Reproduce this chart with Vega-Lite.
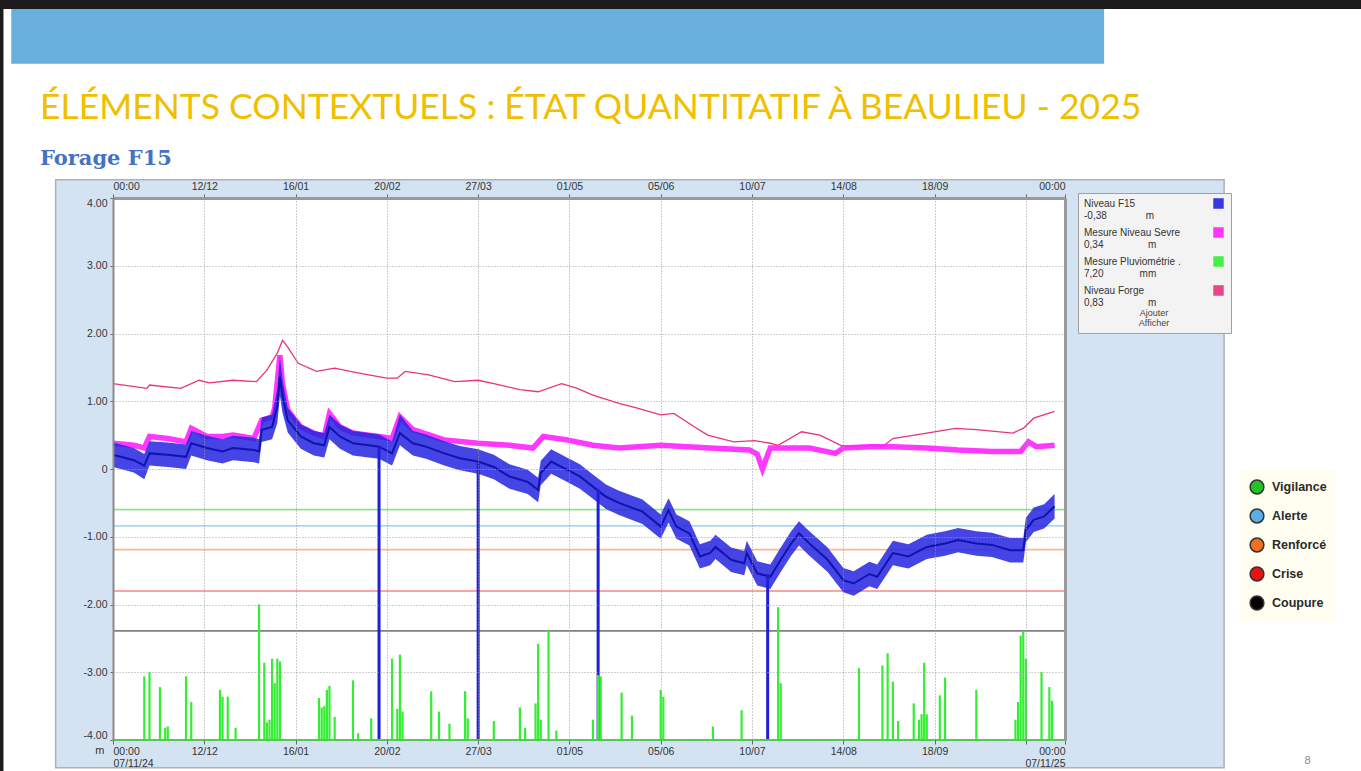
{
  "$schema": "https://vega.github.io/schema/vega-lite/v6.json",
  "width": 952,
  "height": 542,
  "autosize": {"type": "none"},
  "padding": {"left": 113, "top": 198, "right": 296, "bottom": 31},
  "background": "white",
  "title": {
    "text": "ÉLÉMENTS CONTEXTUELS : ÉTAT QUANTITATIF À BEAULIEU - 2025",
    "subtitle": "Forage F15",
    "anchor": "start",
    "frame": "group",
    "dx": -73,
    "dy": 181,
    "offset": 10,
    "font": "Lato",
    "fontSize": 35.5,
    "fontWeight": "normal",
    "color": "#f0c000",
    "subtitleFont": "DejaVu Serif",
    "subtitleFontSize": 21,
    "subtitleFontWeight": "bold",
    "subtitleColor": "#4472c4",
    "subtitlePadding": 22
  },
  "datasets": {
    "f15": [
      {"date": "2024-11-07", "niveau": 0.21, "bas": 0.03, "haut": 0.39},
      {"date": "2024-11-15", "niveau": 0.13, "bas": -0.05, "haut": 0.31},
      {"date": "2024-11-19", "niveau": 0.05, "bas": -0.15, "haut": 0.22},
      {"date": "2024-11-21", "niveau": 0.23, "bas": 0.05, "haut": 0.41},
      {"date": "2024-11-28", "niveau": 0.21, "bas": 0.03, "haut": 0.39},
      {"date": "2024-12-05", "niveau": 0.18, "bas": 0.0, "haut": 0.36},
      {"date": "2024-12-07", "niveau": 0.38, "bas": 0.2, "haut": 0.56},
      {"date": "2024-12-13", "niveau": 0.31, "bas": 0.13, "haut": 0.49},
      {"date": "2024-12-19", "niveau": 0.26, "bas": 0.08, "haut": 0.44},
      {"date": "2024-12-23", "niveau": 0.31, "bas": 0.13, "haut": 0.49},
      {"date": "2024-12-31", "niveau": 0.28, "bas": 0.1, "haut": 0.46},
      {"date": "2025-01-02", "niveau": 0.26, "bas": 0.08, "haut": 0.44},
      {"date": "2025-01-03", "niveau": 0.58, "bas": 0.4, "haut": 0.76},
      {"date": "2025-01-07", "niveau": 0.62, "bas": 0.44, "haut": 0.8},
      {"date": "2025-01-09", "niveau": 0.92, "bas": 0.68, "haut": 1.18},
      {"date": "2025-01-10", "niveau": 1.36, "bas": 1.08, "haut": 1.66},
      {"date": "2025-01-11", "niveau": 1.07, "bas": 0.83, "haut": 1.32},
      {"date": "2025-01-13", "niveau": 0.72, "bas": 0.54, "haut": 0.9},
      {"date": "2025-01-18", "niveau": 0.48, "bas": 0.3, "haut": 0.66},
      {"date": "2025-01-23", "niveau": 0.38, "bas": 0.2, "haut": 0.56},
      {"date": "2025-01-27", "niveau": 0.35, "bas": 0.17, "haut": 0.53},
      {"date": "2025-01-29", "niveau": 0.62, "bas": 0.44, "haut": 0.8},
      {"date": "2025-02-02", "niveau": 0.48, "bas": 0.3, "haut": 0.66},
      {"date": "2025-02-07", "niveau": 0.38, "bas": 0.2, "haut": 0.56},
      {"date": "2025-02-13", "niveau": 0.35, "bas": 0.17, "haut": 0.53},
      {"date": "2025-02-17", "niveau": 0.33, "bas": 0.15, "haut": 0.51},
      {"date": "2025-02-22", "niveau": 0.23, "bas": 0.05, "haut": 0.41},
      {"date": "2025-02-25", "niveau": 0.53, "bas": 0.35, "haut": 0.8},
      {"date": "2025-03-02", "niveau": 0.38, "bas": 0.2, "haut": 0.56},
      {"date": "2025-03-07", "niveau": 0.33, "bas": 0.15, "haut": 0.51},
      {"date": "2025-03-14", "niveau": 0.23, "bas": 0.05, "haut": 0.41},
      {"date": "2025-03-20", "niveau": 0.16, "bas": -0.02, "haut": 0.34},
      {"date": "2025-03-27", "niveau": 0.11, "bas": -0.07, "haut": 0.29},
      {"date": "2025-04-02", "niveau": 0.03, "bas": -0.15, "haut": 0.21},
      {"date": "2025-04-08", "niveau": -0.11, "bas": -0.29, "haut": 0.07},
      {"date": "2025-04-15", "niveau": -0.19, "bas": -0.37, "haut": -0.01},
      {"date": "2025-04-19", "niveau": -0.31, "bas": -0.49, "haut": -0.13},
      {"date": "2025-04-20", "niveau": -0.06, "bas": -0.24, "haut": 0.12},
      {"date": "2025-04-24", "niveau": 0.11, "bas": -0.07, "haut": 0.29},
      {"date": "2025-04-30", "niveau": -0.01, "bas": -0.19, "haut": 0.17},
      {"date": "2025-05-05", "niveau": -0.11, "bas": -0.29, "haut": 0.07},
      {"date": "2025-05-10", "niveau": -0.26, "bas": -0.44, "haut": -0.08},
      {"date": "2025-05-15", "niveau": -0.41, "bas": -0.59, "haut": -0.23},
      {"date": "2025-05-20", "niveau": -0.5, "bas": -0.68, "haut": -0.32},
      {"date": "2025-05-29", "niveau": -0.63, "bas": -0.81, "haut": -0.45},
      {"date": "2025-06-05", "niveau": -0.85, "bas": -1.03, "haut": -0.67},
      {"date": "2025-06-08", "niveau": -0.61, "bas": -0.79, "haut": -0.43},
      {"date": "2025-06-11", "niveau": -0.85, "bas": -1.03, "haut": -0.67},
      {"date": "2025-06-16", "niveau": -0.95, "bas": -1.13, "haut": -0.77},
      {"date": "2025-06-20", "niveau": -1.29, "bas": -1.47, "haut": -1.11},
      {"date": "2025-06-24", "niveau": -1.24, "bas": -1.42, "haut": -1.06},
      {"date": "2025-06-26", "niveau": -1.15, "bas": -1.33, "haut": -0.97},
      {"date": "2025-07-02", "niveau": -1.34, "bas": -1.52, "haut": -1.16},
      {"date": "2025-07-07", "niveau": -1.39, "bas": -1.57, "haut": -1.21},
      {"date": "2025-07-08", "niveau": -1.24, "bas": -1.42, "haut": -1.06},
      {"date": "2025-07-12", "niveau": -1.54, "bas": -1.72, "haut": -1.36},
      {"date": "2025-07-17", "niveau": -1.59, "bas": -1.77, "haut": -1.41},
      {"date": "2025-07-21", "niveau": -1.34, "bas": -1.52, "haut": -1.16},
      {"date": "2025-07-25", "niveau": -1.1, "bas": -1.28, "haut": -0.92},
      {"date": "2025-07-28", "niveau": -0.95, "bas": -1.13, "haut": -0.77},
      {"date": "2025-08-01", "niveau": -1.1, "bas": -1.28, "haut": -0.92},
      {"date": "2025-08-08", "niveau": -1.34, "bas": -1.52, "haut": -1.16},
      {"date": "2025-08-14", "niveau": -1.64, "bas": -1.82, "haut": -1.46},
      {"date": "2025-08-18", "niveau": -1.69, "bas": -1.87, "haut": -1.51},
      {"date": "2025-08-24", "niveau": -1.55, "bas": -1.73, "haut": -1.37},
      {"date": "2025-08-27", "niveau": -1.59, "bas": -1.77, "haut": -1.41},
      {"date": "2025-09-02", "niveau": -1.24, "bas": -1.42, "haut": -1.06},
      {"date": "2025-09-08", "niveau": -1.29, "bas": -1.47, "haut": -1.11},
      {"date": "2025-09-15", "niveau": -1.15, "bas": -1.33, "haut": -0.97},
      {"date": "2025-09-22", "niveau": -1.1, "bas": -1.28, "haut": -0.92},
      {"date": "2025-09-27", "niveau": -1.05, "bas": -1.23, "haut": -0.87},
      {"date": "2025-10-04", "niveau": -1.1, "bas": -1.28, "haut": -0.92},
      {"date": "2025-10-10", "niveau": -1.12, "bas": -1.3, "haut": -0.94},
      {"date": "2025-10-17", "niveau": -1.2, "bas": -1.38, "haut": -1.02},
      {"date": "2025-10-22", "niveau": -1.2, "bas": -1.38, "haut": -1.02},
      {"date": "2025-10-23", "niveau": -0.9, "bas": -1.08, "haut": -0.72},
      {"date": "2025-10-26", "niveau": -0.75, "bas": -0.93, "haut": -0.57},
      {"date": "2025-10-30", "niveau": -0.7, "bas": -0.88, "haut": -0.52},
      {"date": "2025-11-03", "niveau": -0.55, "bas": -0.73, "haut": -0.37}
    ],
    "sevre": [
      {"date": "2024-11-07", "niveau": 0.38}, {"date": "2024-11-15", "niveau": 0.35},
      {"date": "2024-11-19", "niveau": 0.31}, {"date": "2024-11-21", "niveau": 0.48},
      {"date": "2024-11-28", "niveau": 0.45}, {"date": "2024-12-05", "niveau": 0.4},
      {"date": "2024-12-07", "niveau": 0.6}, {"date": "2024-12-13", "niveau": 0.48},
      {"date": "2024-12-19", "niveau": 0.48}, {"date": "2024-12-23", "niveau": 0.5},
      {"date": "2024-12-31", "niveau": 0.45}, {"date": "2025-01-03", "niveau": 0.72},
      {"date": "2025-01-07", "niveau": 0.77}, {"date": "2025-01-08", "niveau": 0.9},
      {"date": "2025-01-10", "niveau": 1.68}, {"date": "2025-01-11", "niveau": 1.25},
      {"date": "2025-01-13", "niveau": 0.87}, {"date": "2025-01-18", "niveau": 0.62},
      {"date": "2025-01-23", "niveau": 0.53}, {"date": "2025-01-27", "niveau": 0.48},
      {"date": "2025-01-29", "niveau": 0.82}, {"date": "2025-02-02", "niveau": 0.62},
      {"date": "2025-02-07", "niveau": 0.53}, {"date": "2025-02-13", "niveau": 0.5},
      {"date": "2025-02-17", "niveau": 0.48}, {"date": "2025-02-22", "niveau": 0.45},
      {"date": "2025-02-25", "niveau": 0.77}, {"date": "2025-03-02", "niveau": 0.58},
      {"date": "2025-03-14", "niveau": 0.43}, {"date": "2025-03-27", "niveau": 0.38},
      {"date": "2025-04-08", "niveau": 0.35}, {"date": "2025-04-17", "niveau": 0.31},
      {"date": "2025-04-21", "niveau": 0.48}, {"date": "2025-04-30", "niveau": 0.43},
      {"date": "2025-05-10", "niveau": 0.35}, {"date": "2025-05-20", "niveau": 0.31},
      {"date": "2025-06-05", "niveau": 0.35}, {"date": "2025-06-24", "niveau": 0.31},
      {"date": "2025-07-09", "niveau": 0.28}, {"date": "2025-07-12", "niveau": 0.22},
      {"date": "2025-07-14", "niveau": 0.0}, {"date": "2025-07-17", "niveau": 0.31},
      {"date": "2025-08-01", "niveau": 0.31}, {"date": "2025-08-11", "niveau": 0.23},
      {"date": "2025-08-14", "niveau": 0.31}, {"date": "2025-08-24", "niveau": 0.33},
      {"date": "2025-09-02", "niveau": 0.33}, {"date": "2025-09-15", "niveau": 0.31},
      {"date": "2025-09-27", "niveau": 0.28}, {"date": "2025-10-10", "niveau": 0.26},
      {"date": "2025-10-21", "niveau": 0.26}, {"date": "2025-10-24", "niveau": 0.4},
      {"date": "2025-10-27", "niveau": 0.33}, {"date": "2025-11-03", "niveau": 0.35}
    ],
    "forge": [
      {"date": "2024-11-07", "niveau": 1.26}, {"date": "2024-11-20", "niveau": 1.19},
      {"date": "2024-11-21", "niveau": 1.24}, {"date": "2024-12-03", "niveau": 1.19},
      {"date": "2024-12-10", "niveau": 1.31}, {"date": "2024-12-14", "niveau": 1.27},
      {"date": "2024-12-23", "niveau": 1.31}, {"date": "2025-01-01", "niveau": 1.29},
      {"date": "2025-01-05", "niveau": 1.46}, {"date": "2025-01-09", "niveau": 1.71},
      {"date": "2025-01-11", "niveau": 1.9}, {"date": "2025-01-13", "niveau": 1.8},
      {"date": "2025-01-17", "niveau": 1.56}, {"date": "2025-01-24", "niveau": 1.44},
      {"date": "2025-01-31", "niveau": 1.49}, {"date": "2025-02-06", "niveau": 1.44},
      {"date": "2025-02-13", "niveau": 1.39}, {"date": "2025-02-20", "niveau": 1.34},
      {"date": "2025-02-24", "niveau": 1.34}, {"date": "2025-02-27", "niveau": 1.44},
      {"date": "2025-03-08", "niveau": 1.39}, {"date": "2025-03-18", "niveau": 1.29},
      {"date": "2025-03-27", "niveau": 1.31}, {"date": "2025-04-02", "niveau": 1.26},
      {"date": "2025-04-12", "niveau": 1.17}, {"date": "2025-04-19", "niveau": 1.14},
      {"date": "2025-04-28", "niveau": 1.26}, {"date": "2025-05-04", "niveau": 1.19},
      {"date": "2025-05-10", "niveau": 1.09}, {"date": "2025-05-20", "niveau": 0.97},
      {"date": "2025-05-27", "niveau": 0.9}, {"date": "2025-06-05", "niveau": 0.8},
      {"date": "2025-06-10", "niveau": 0.82}, {"date": "2025-06-18", "niveau": 0.62},
      {"date": "2025-06-23", "niveau": 0.5}, {"date": "2025-07-03", "niveau": 0.4},
      {"date": "2025-07-11", "niveau": 0.42}, {"date": "2025-07-17", "niveau": 0.38},
      {"date": "2025-07-20", "niveau": 0.35}, {"date": "2025-07-29", "niveau": 0.55},
      {"date": "2025-08-05", "niveau": 0.5}, {"date": "2025-08-13", "niveau": 0.35},
      {"date": "2025-08-18", "niveau": 0.33}, {"date": "2025-08-25", "niveau": 0.35},
      {"date": "2025-08-29", "niveau": 0.33}, {"date": "2025-09-02", "niveau": 0.45},
      {"date": "2025-09-15", "niveau": 0.53}, {"date": "2025-09-26", "niveau": 0.6},
      {"date": "2025-10-04", "niveau": 0.58}, {"date": "2025-10-18", "niveau": 0.53},
      {"date": "2025-10-22", "niveau": 0.6}, {"date": "2025-10-26", "niveau": 0.75},
      {"date": "2025-11-03", "niveau": 0.85}
    ],
    "anomalies": [
      {"date": "2025-02-17", "haut": 0.33, "bas": -4.0},
      {"date": "2025-03-27", "haut": 0.11, "bas": -4.0},
      {"date": "2025-05-12", "haut": -0.3, "bas": -4.0},
      {"date": "2025-07-16", "haut": -1.55, "bas": -4.0}
    ],
    "pluie": [
      {"date": "2024-11-19", "pluie": 4.7}, {"date": "2024-11-21", "pluie": 5.0},
      {"date": "2024-11-25", "pluie": 3.9}, {"date": "2024-11-27", "pluie": 0.9},
      {"date": "2024-11-28", "pluie": 1.0}, {"date": "2024-12-05", "pluie": 4.7},
      {"date": "2024-12-07", "pluie": 2.8}, {"date": "2024-12-18", "pluie": 3.7},
      {"date": "2024-12-19", "pluie": 3.2}, {"date": "2024-12-21", "pluie": 3.2},
      {"date": "2024-12-24", "pluie": 0.9}, {"date": "2025-01-02", "pluie": 10.0},
      {"date": "2025-01-04", "pluie": 5.7}, {"date": "2025-01-05", "pluie": 1.3},
      {"date": "2025-01-06", "pluie": 1.5}, {"date": "2025-01-07", "pluie": 6.0},
      {"date": "2025-01-08", "pluie": 4.2}, {"date": "2025-01-09", "pluie": 6.0},
      {"date": "2025-01-10", "pluie": 5.8}, {"date": "2025-01-25", "pluie": 3.1},
      {"date": "2025-01-26", "pluie": 2.4}, {"date": "2025-01-27", "pluie": 2.5},
      {"date": "2025-01-28", "pluie": 3.7}, {"date": "2025-01-29", "pluie": 4.0},
      {"date": "2025-01-31", "pluie": 1.7}, {"date": "2025-02-07", "pluie": 4.4},
      {"date": "2025-02-09", "pluie": 0.5}, {"date": "2025-02-14", "pluie": 1.6},
      {"date": "2025-02-22", "pluie": 6.0}, {"date": "2025-02-24", "pluie": 2.3},
      {"date": "2025-02-25", "pluie": 6.3}, {"date": "2025-02-26", "pluie": 2.1},
      {"date": "2025-03-09", "pluie": 3.6}, {"date": "2025-03-12", "pluie": 2.1},
      {"date": "2025-03-16", "pluie": 1.2}, {"date": "2025-03-22", "pluie": 3.6},
      {"date": "2025-03-23", "pluie": 1.6}, {"date": "2025-04-02", "pluie": 1.4},
      {"date": "2025-04-12", "pluie": 2.4}, {"date": "2025-04-14", "pluie": 0.9},
      {"date": "2025-04-18", "pluie": 2.7}, {"date": "2025-04-19", "pluie": 7.1},
      {"date": "2025-04-20", "pluie": 1.5}, {"date": "2025-04-23", "pluie": 8.1},
      {"date": "2025-04-26", "pluie": 0.7}, {"date": "2025-05-10", "pluie": 1.5},
      {"date": "2025-05-12", "pluie": 4.8}, {"date": "2025-05-13", "pluie": 4.7},
      {"date": "2025-05-21", "pluie": 3.5}, {"date": "2025-05-25", "pluie": 1.8},
      {"date": "2025-06-05", "pluie": 3.7}, {"date": "2025-06-06", "pluie": 3.2},
      {"date": "2025-06-25", "pluie": 1.0}, {"date": "2025-07-06", "pluie": 2.2},
      {"date": "2025-07-20", "pluie": 9.8}, {"date": "2025-07-21", "pluie": 4.2},
      {"date": "2025-08-20", "pluie": 5.3}, {"date": "2025-08-29", "pluie": 5.5},
      {"date": "2025-08-31", "pluie": 6.4}, {"date": "2025-09-02", "pluie": 4.3},
      {"date": "2025-09-04", "pluie": 1.4}, {"date": "2025-09-10", "pluie": 2.7},
      {"date": "2025-09-12", "pluie": 1.5}, {"date": "2025-09-13", "pluie": 1.9},
      {"date": "2025-09-14", "pluie": 5.7}, {"date": "2025-09-15", "pluie": 1.9},
      {"date": "2025-09-20", "pluie": 3.3}, {"date": "2025-09-22", "pluie": 4.6},
      {"date": "2025-10-04", "pluie": 3.7}, {"date": "2025-10-19", "pluie": 1.5},
      {"date": "2025-10-20", "pluie": 2.8}, {"date": "2025-10-21", "pluie": 7.7},
      {"date": "2025-10-22", "pluie": 8.0}, {"date": "2025-10-23", "pluie": 6.0},
      {"date": "2025-10-29", "pluie": 5.0}, {"date": "2025-11-01", "pluie": 3.9},
      {"date": "2025-11-02", "pluie": 2.9}
    ],
    "seuils": [
      {"niveau": "Vigilance", "seuil": -0.6},
      {"niveau": "Alerte", "seuil": -0.84},
      {"niveau": "Renforcé", "seuil": -1.19},
      {"niveau": "Crise", "seuil": -1.8},
      {"niveau": "Coupure", "seuil": -2.39}
    ]
  },
  "resolve": {
    "scale": {"y": "independent"},
    "axis": {"x": "independent", "y": "independent"}
  },
  "layer": [
    {
      "data": {"values": [{}]},
      "mark": {"type": "rect", "color": "#1b1b1b"},
      "encoding": {
        "x": {"datum": {"year": 2024, "month": 9, "date": 1, "utc": true}, "type": "temporal", "scale": {"type": "utc", "domain": [{"year": 2024, "month": 11, "date": 7, "utc": true}, {"year": 2025, "month": 11, "date": 7, "utc": true}]}, "axis": null},
        "x2": {"datum": {"year": 2026, "month": 3, "date": 31, "utc": true}},
        "y": {"datum": 6.95, "type": "quantitative", "scale": {"domain": [-4, 4], "nice": false, "zero": false}, "axis": null},
        "y2": {"datum": 6.79}
      }
    },
    {
      "data": {"values": [{}]},
      "mark": {"type": "rect", "color": "#1b1b1b"},
      "encoding": {
        "x": {"datum": {"year": 2024, "month": 9, "date": 1, "utc": true}, "type": "temporal", "scale": {"type": "utc", "domain": [{"year": 2024, "month": 11, "date": 7, "utc": true}, {"year": 2025, "month": 11, "date": 7, "utc": true}]}, "axis": null},
        "x2": {"datum": {"year": 2024, "month": 9, "date": 26, "utc": true}},
        "y": {"datum": 6.95, "type": "quantitative", "scale": {"domain": [-4, 4], "nice": false, "zero": false}, "axis": null},
        "y2": {"datum": -4.6}
      }
    },
    {
      "data": {"values": [{}]},
      "mark": {"type": "rect", "color": "#68afdb"},
      "encoding": {
        "x": {"datum": {"year": 2024, "month": 9, "date": 29, "utc": true}, "type": "temporal", "scale": {"type": "utc", "domain": [{"year": 2024, "month": 11, "date": 7, "utc": true}, {"year": 2025, "month": 11, "date": 7, "utc": true}]}, "axis": null},
        "x2": {"datum": {"year": 2025, "month": 11, "date": 22, "utc": true}},
        "y": {"datum": 6.79, "type": "quantitative", "scale": {"domain": [-4, 4], "nice": false, "zero": false}, "axis": null},
        "y2": {"datum": 5.98}
      }
    },
    {
      "data": {"values": [{}]},
      "mark": {"type": "rect", "color": "#d4e3f2", "stroke": "#a7b2bd", "strokeWidth": 1.5},
      "encoding": {
        "x": {"datum": {"year": 2024, "month": 10, "date": 16, "utc": true}, "type": "temporal", "scale": {"type": "utc", "domain": [{"year": 2024, "month": 11, "date": 7, "utc": true}, {"year": 2025, "month": 11, "date": 7, "utc": true}]}, "axis": null},
        "x2": {"datum": {"year": 2026, "month": 1, "date": 7, "utc": true}},
        "y": {"datum": 4.27, "type": "quantitative", "scale": {"domain": [-4, 4], "nice": false, "zero": false}, "axis": null},
        "y2": {"datum": -4.41}
      }
    },
    {
      "data": {"values": [{}]},
      "mark": {"type": "rect", "color": "#ffffff"},
      "encoding": {
        "x": {"datum": {"year": 2024, "month": 11, "date": 7, "utc": true}, "type": "temporal", "scale": {"type": "utc", "domain": [{"year": 2024, "month": 11, "date": 7, "utc": true}, {"year": 2025, "month": 11, "date": 7, "utc": true}]}, "axis": null},
        "x2": {"datum": {"year": 2025, "month": 11, "date": 7, "utc": true}},
        "y": {"datum": 4, "type": "quantitative", "scale": {"domain": [-4, 4], "nice": false, "zero": false}, "axis": null},
        "y2": {"datum": -4}
      }
    },
    {
      "data": {"name": "seuils"},
      "mark": {"type": "rule", "strokeWidth": 1.6, "opacity": 0.5},
      "encoding": {
        "y": {"field": "seuil", "type": "quantitative", "scale": {"domain": [-4, 4], "nice": false, "zero": false}, "axis": null},
        "stroke": {
          "condition": [
            {"test": "datum.niveau == 'Vigilance'", "value": "#22c322"},
            {"test": "datum.niveau == 'Alerte'", "value": "#5aaee6"},
            {"test": "datum.niveau == 'Renforcé'", "value": "#f07020"},
            {"test": "datum.niveau == 'Crise'", "value": "#ee1111"}
          ],
          "value": "#000000"
        }
      }
    },
    {
      "data": {"name": "seuils"},
      "mark": {"type": "point", "shape": "circle", "filled": true, "size": 0, "strokeWidth": 0},
      "encoding": {
        "y": {"field": "seuil", "type": "quantitative", "scale": {"domain": [-4, 4], "nice": false, "zero": false}, "axis": null},
        "fill": {
          "field": "niveau", "type": "nominal",
          "scale": {"domain": ["Vigilance", "Alerte", "Renforcé", "Crise", "Coupure"], "range": ["#22c322", "#5aaee6", "#f07020", "#ee1111", "#000000"]},
          "legend": {
            "orient": "none", "legendX": 1127, "legendY": 272, "title": null,
            "symbolType": "circle", "symbolSize": 190, "symbolStrokeColor": "#333333", "symbolStrokeWidth": 1.5,
            "symbolOpacity": 1, "fillColor": "#fffef0",
            "padding": 9, "rowPadding": 9, "labelFont": "Liberation Sans", "labelFontSize": 12.5,
            "labelFontWeight": "bold", "labelColor": "#2a2a2a", "labelOffset": 7
          }
        }
      }
    },
    {
      "data": {"name": "forge"},
      "mark": {"type": "line", "strokeWidth": 1.3},
      "encoding": {
        "x": {
          "field": "date", "type": "temporal",
          "scale": {"type": "utc", "domain": [{"year": 2024, "month": 11, "date": 7, "utc": true}, {"year": 2025, "month": 11, "date": 7, "utc": true}]},
          "axis": {
            "orient": "top", "title": null, "zindex": 1,
            "values": [
              {"year": 2024, "month": 11, "date": 7, "utc": true}, {"year": 2024, "month": 12, "date": 12, "utc": true},
              {"year": 2025, "month": 1, "date": 16, "utc": true}, {"year": 2025, "month": 2, "date": 20, "utc": true},
              {"year": 2025, "month": 3, "date": 27, "utc": true}, {"year": 2025, "month": 5, "date": 1, "utc": true},
              {"year": 2025, "month": 6, "date": 5, "utc": true}, {"year": 2025, "month": 7, "date": 10, "utc": true},
              {"year": 2025, "month": 8, "date": 14, "utc": true}, {"year": 2025, "month": 9, "date": 18, "utc": true},
              {"year": 2025, "month": 10, "date": 23, "utc": true}, {"year": 2025, "month": 11, "date": 7, "utc": true}
            ],
            "labelExpr": "utcFormat(datum.value, '%d/%m') == '07/11' ? '00:00' : (utcFormat(datum.value, '%d/%m') == '23/10' ? '' : utcFormat(datum.value, '%d/%m'))",
            "labelFlush": true, "labelOverlap": false, "labelFont": "Liberation Sans", "labelFontSize": 10.5,
            "labelColor": "#333333", "labelPadding": 3, "tickSize": 4, "tickColor": "#666666",
            "grid": false, "domain": true, "domainColor": "#9a9a9a", "domainWidth": 3
          }
        },
        "y": {"field": "niveau", "type": "quantitative", "scale": {"domain": [-4, 4], "nice": false, "zero": false}, "axis": null},
        "color": {"datum": "Niveau Forge", "type": "nominal"}
      }
    },
    {
      "data": {"name": "sevre"},
      "mark": {"type": "line", "strokeWidth": 5.5, "opacity": 0.9},
      "encoding": {
        "x": {"field": "date", "type": "temporal", "scale": {"type": "utc", "domain": [{"year": 2024, "month": 11, "date": 7, "utc": true}, {"year": 2025, "month": 11, "date": 7, "utc": true}]}, "axis": null},
        "y": {"field": "niveau", "type": "quantitative", "scale": {"domain": [-4, 4], "nice": false, "zero": false}, "axis": null},
        "color": {"datum": "Mesure Niveau Sevre", "type": "nominal"}
      }
    },
    {
      "data": {"name": "f15"},
      "mark": {"type": "area", "opacity": 0.85},
      "encoding": {
        "x": {
          "field": "date", "type": "temporal",
          "scale": {"type": "utc", "domain": [{"year": 2024, "month": 11, "date": 7, "utc": true}, {"year": 2025, "month": 11, "date": 7, "utc": true}]},
          "axis": {
            "orient": "bottom", "zindex": 1,
            "values": [
              {"year": 2024, "month": 11, "date": 7, "utc": true}, {"year": 2024, "month": 12, "date": 12, "utc": true},
              {"year": 2025, "month": 1, "date": 16, "utc": true}, {"year": 2025, "month": 2, "date": 20, "utc": true},
              {"year": 2025, "month": 3, "date": 27, "utc": true}, {"year": 2025, "month": 5, "date": 1, "utc": true},
              {"year": 2025, "month": 6, "date": 5, "utc": true}, {"year": 2025, "month": 7, "date": 10, "utc": true},
              {"year": 2025, "month": 8, "date": 14, "utc": true}, {"year": 2025, "month": 9, "date": 18, "utc": true},
              {"year": 2025, "month": 10, "date": 23, "utc": true}, {"year": 2025, "month": 11, "date": 7, "utc": true}
            ],
            "labelExpr": "utcFormat(datum.value, '%d/%m/%y') == '07/11/24' ? ['00:00', '07/11/24'] : (utcFormat(datum.value, '%d/%m/%y') == '07/11/25' ? ['00:00', '07/11/25'] : (utcFormat(datum.value, '%d/%m') == '23/10' ? '' : utcFormat(datum.value, '%d/%m')))",
            "labelFlush": true, "labelOverlap": false, "labelFont": "Liberation Sans", "labelFontSize": 10.5,
            "labelColor": "#333333", "labelPadding": 2, "labelLineHeight": 12, "tickSize": 4, "tickColor": "#666666",
            "grid": true, "gridColor": "#9a9a9a", "gridDash": [1, 2], "gridWidth": 1,
            "domain": false,
            "title": "8", "titleX": 1194, "titleY": 20, "titleFont": "Liberation Sans", "titleFontSize": 11,
            "titleFontWeight": "normal", "titleColor": "#8a8a8a", "titleAlign": "center", "titleBaseline": "middle"
          }
        },
        "y": {
          "field": "bas", "type": "quantitative", "scale": {"domain": [-4, 4], "nice": false, "zero": false},
          "axis": {
            "orient": "left", "zindex": 1, "values": [-4, -3, -2, -1, 0, 1, 2, 3, 4],
            "labelExpr": "datum.value == 0 ? '0' : (datum.value < 0 ? '-' + format(-datum.value, '.2f') : format(datum.value, '.2f'))",
            "labelFont": "Liberation Sans", "labelFontSize": 10.5, "labelColor": "#333333", "labelPadding": 3,
            "labelFlush": true, "labelFlushOffset": 0,
            "tickSize": 3, "tickColor": "#666666",
            "grid": true, "gridColor": "#a0a0a0", "gridDash": [1, 2], "gridWidth": 1,
            "domain": true, "domainColor": "#8a8a8a", "domainWidth": 2,
            "title": "m", "titleAngle": 0, "titleX": -9, "titleY": 552, "titleAlign": "right", "titleBaseline": "middle",
            "titleFont": "Liberation Sans", "titleFontSize": 11, "titleFontWeight": "normal", "titleColor": "#333333"
          }
        },
        "y2": {"field": "haut"},
        "color": {
          "datum": "Niveau F15", "type": "nominal",
          "scale": {"domain": ["Niveau F15", "Mesure Niveau Sevre", "Mesure Pluviométrie", "Niveau Forge"], "range": ["#2424e0", "#ff22ff", "#33ee33", "#e8337f"]},
          "legend": {
            "orient": "none", "legendX": 965, "legendY": -5, "direction": "vertical",
            "title": ["Ajouter", "Afficher"], "titleOrient": "bottom", "titleAnchor": "middle", "titleAlign": "center",
            "titleFont": "Liberation Sans", "titleFontSize": 9, "titleFontWeight": "normal", "titleColor": "#444444",
            "titleLineHeight": 10, "titlePadding": 1,
            "symbolType": "square", "symbolSize": 80, "symbolOffset": 130, "labelOffset": -140,
            "fillColor": "#f3f3f3", "strokeColor": "#a0a0a0",
            "padding": 5, "rowPadding": 4, "labelFont": "Liberation Sans", "labelFontSize": 10, "labelColor": "#333333",
            "labelLimit": 200, "labelLineHeight": 13,
            "labelExpr": "datum.label == 'Niveau F15' ? ['Niveau F15', '-0,38\u00a0\u00a0\u00a0\u00a0\u00a0\u00a0\u00a0\u00a0\u00a0\u00a0\u00a0\u00a0\u00a0\u00a0m'] : (datum.label == 'Mesure Niveau Sevre' ? ['Mesure Niveau Sevre', '0,34\u00a0\u00a0\u00a0\u00a0\u00a0\u00a0\u00a0\u00a0\u00a0\u00a0\u00a0\u00a0\u00a0\u00a0\u00a0\u00a0m'] : (datum.label == 'Mesure Pluviométrie' ? ['Mesure Pluviométrie .', '7,20\u00a0\u00a0\u00a0\u00a0\u00a0\u00a0\u00a0\u00a0\u00a0\u00a0\u00a0\u00a0\u00a0mm'] : ['Niveau Forge', '0,83\u00a0\u00a0\u00a0\u00a0\u00a0\u00a0\u00a0\u00a0\u00a0\u00a0\u00a0\u00a0\u00a0\u00a0\u00a0\u00a0m']))"
          }
        }
      }
    },
    {
      "data": {"name": "f15"},
      "mark": {"type": "line", "strokeWidth": 2, "color": "#1212b0"},
      "encoding": {
        "x": {"field": "date", "type": "temporal", "scale": {"type": "utc", "domain": [{"year": 2024, "month": 11, "date": 7, "utc": true}, {"year": 2025, "month": 11, "date": 7, "utc": true}]}, "axis": null},
        "y": {"field": "niveau", "type": "quantitative", "scale": {"domain": [-4, 4], "nice": false, "zero": false}, "axis": null}
      }
    },
    {
      "data": {"name": "anomalies"},
      "mark": {"type": "rule", "strokeWidth": 3, "color": "#1f1fd8"},
      "encoding": {
        "x": {"field": "date", "type": "temporal", "scale": {"type": "utc", "domain": [{"year": 2024, "month": 11, "date": 7, "utc": true}, {"year": 2025, "month": 11, "date": 7, "utc": true}]}, "axis": null},
        "y": {"field": "haut", "type": "quantitative", "scale": {"domain": [-4, 4], "nice": false, "zero": false}, "axis": null},
        "y2": {"field": "bas"}
      }
    },
    {
      "data": {"name": "pluie"},
      "mark": {"type": "rule", "strokeWidth": 2.2},
      "encoding": {
        "x": {"field": "date", "type": "temporal", "scale": {"type": "utc", "domain": [{"year": 2024, "month": 11, "date": 7, "utc": true}, {"year": 2025, "month": 11, "date": 7, "utc": true}]}, "axis": null},
        "y": {
          "field": "pluie", "type": "quantitative", "scale": {"domain": [0, 40], "nice": false, "zero": true},
          "axis": {"orient": "right", "labels": false, "ticks": false, "grid": false, "title": null, "domainColor": "#9a9a9a", "domainWidth": 3, "zindex": 1}
        },
        "y2": {"datum": 0},
        "color": {"datum": "Mesure Pluviométrie", "type": "nominal"}
      }
    },
    {
      "data": {"values": [{}]},
      "mark": {"type": "rule", "strokeWidth": 2, "color": "#33dd33"},
      "encoding": {
        "y": {"datum": -4, "type": "quantitative", "scale": {"domain": [-4, 4], "nice": false, "zero": false}, "axis": null}
      }
    }
  ]
}
